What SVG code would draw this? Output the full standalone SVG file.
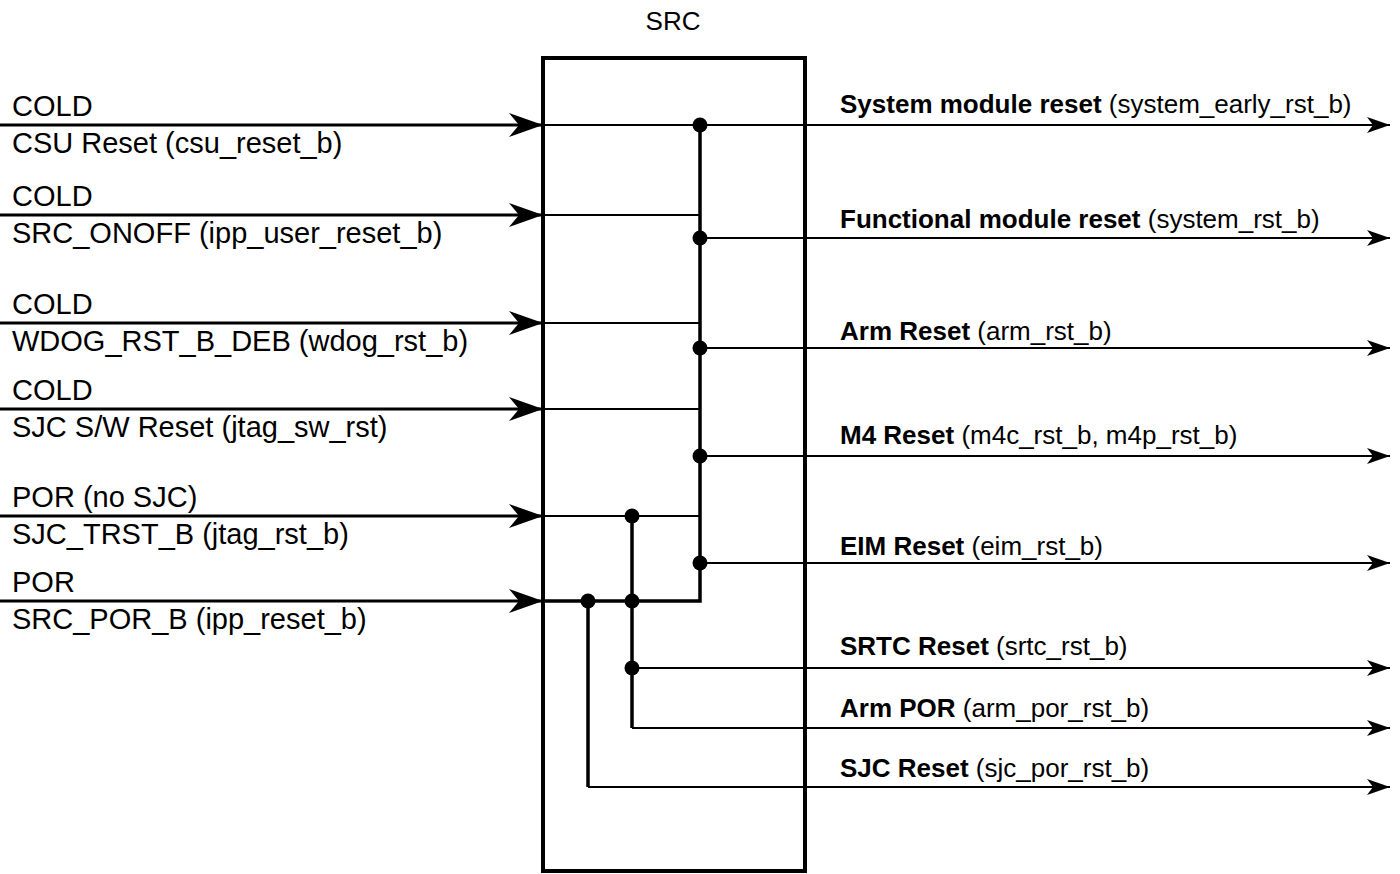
<svg xmlns="http://www.w3.org/2000/svg" width="1400" height="874" viewBox="0 0 1400 874">
<defs>
<marker id="inArrow" markerUnits="userSpaceOnUse" viewBox="0 0 34 24" refX="34" refY="12" markerWidth="34" markerHeight="24" orient="auto"><path d="M0,0 L34,12 L0,24 L10,12 Z" fill="#000"/></marker>
<marker id="outArrow" markerUnits="userSpaceOnUse" viewBox="0 0 23 16" refX="23" refY="8" markerWidth="23" markerHeight="16" orient="auto"><path d="M0,0 L23,8 L0,16 L6,8 Z" fill="#000"/></marker>
<style>
.lt{font-family:"Liberation Sans",Arial,Helvetica,sans-serif;font-size:29px;fill:#000}
.rt{font-family:"Liberation Sans",Arial,Helvetica,sans-serif;font-size:26px;fill:#000}
.b{font-weight:bold}
.in{stroke:#000;stroke-width:3;fill:none;marker-end:url(#inArrow)}
.out{stroke:#000;stroke-width:2;fill:none;marker-end:url(#outArrow)}
.w{stroke:#000;stroke-width:2;fill:none}
.bus{stroke:#000;stroke-width:3.5;fill:none}
.dot{fill:#000}
</style>
</defs>
<rect width="1400" height="874" fill="#fff"/>
<g id="src">
<rect x="543" y="58" width="262" height="813" fill="none" stroke="#000" stroke-width="4"/>
<text class="rt" x="673" y="30" text-anchor="middle" font-size="25">SRC</text>
</g>
<g id="inputs-labels">
<g id="in1"><text class="lt" x="12" y="116">COLD</text><text class="lt" x="12" y="153">CSU Reset (csu_reset_b)</text></g>
<g id="in2"><text class="lt" x="12" y="206">COLD</text><text class="lt" x="12" y="243">SRC_ONOFF (ipp_user_reset_b)</text></g>
<g id="in3"><text class="lt" x="12" y="314">COLD</text><text class="lt" x="12" y="351">WDOG_RST_B_DEB (wdog_rst_b)</text></g>
<g id="in4"><text class="lt" x="12" y="400">COLD</text><text class="lt" x="12" y="437">SJC S/W Reset (jtag_sw_rst)</text></g>
<g id="in5"><text class="lt" x="12" y="507">POR (no SJC)</text><text class="lt" x="12" y="544">SJC_TRST_B (jtag_rst_b)</text></g>
<g id="in6"><text class="lt" x="12" y="592">POR</text><text class="lt" x="12" y="629">SRC_POR_B (ipp_reset_b)</text></g>
</g>
<g id="outputs-labels">
<g id="out1"><text class="rt" x="840" y="113"><tspan class="b">System module reset</tspan> (system_early_rst_b)</text></g>
<g id="out2"><text class="rt" x="840" y="228"><tspan class="b">Functional module reset</tspan> (system_rst_b)</text></g>
<g id="out3"><text class="rt" x="840" y="340"><tspan class="b">Arm Reset</tspan> (arm_rst_b)</text></g>
<g id="out4"><text class="rt" x="840" y="444"><tspan class="b">M4 Reset</tspan> (m4c_rst_b, m4p_rst_b)</text></g>
<g id="out5"><text class="rt" x="840" y="555"><tspan class="b">EIM Reset</tspan> (eim_rst_b)</text></g>
<g id="out6"><text class="rt" x="840" y="655"><tspan class="b">SRTC Reset</tspan> (srtc_rst_b)</text></g>
<g id="out7"><text class="rt" x="840" y="717"><tspan class="b">Arm POR</tspan> (arm_por_rst_b)</text></g>
<g id="out8"><text class="rt" x="840" y="777"><tspan class="b">SJC Reset</tspan> (sjc_por_rst_b)</text></g>
</g>
<g id="connectors">
<line class="in" x1="0" y1="125" x2="543" y2="125"/>
<line class="in" x1="0" y1="215" x2="543" y2="215"/>
<line class="in" x1="0" y1="323" x2="543" y2="323"/>
<line class="in" x1="0" y1="409" x2="543" y2="409"/>
<line class="in" x1="0" y1="516" x2="543" y2="516"/>
<line class="in" x1="0" y1="601" x2="543" y2="601"/>
<line class="w" x1="543" y1="125" x2="700" y2="125"/>
<line class="w" x1="543" y1="215" x2="700" y2="215"/>
<line class="w" x1="543" y1="323" x2="700" y2="323"/>
<line class="w" x1="543" y1="409" x2="700" y2="409"/>
<line class="w" x1="543" y1="516" x2="700" y2="516"/>
<polyline class="bus" points="543,601 700,601 700,125"/>
<line class="bus" x1="632" y1="516" x2="632" y2="728"/>
<line class="bus" x1="588" y1="601" x2="588" y2="787"/>
<line class="out" x1="700" y1="125" x2="1390" y2="125"/>
<line class="out" x1="700" y1="238" x2="1390" y2="238"/>
<line class="out" x1="700" y1="348" x2="1390" y2="348"/>
<line class="out" x1="700" y1="456" x2="1390" y2="456"/>
<line class="out" x1="700" y1="563" x2="1390" y2="563"/>
<line class="out" x1="632" y1="668" x2="1390" y2="668"/>
<line class="out" x1="632" y1="728" x2="1390" y2="728"/>
<line class="out" x1="588" y1="787" x2="1390" y2="787"/>
<circle class="dot" cx="700" cy="125" r="7.5"/>
<circle class="dot" cx="700" cy="238" r="7.5"/>
<circle class="dot" cx="700" cy="348" r="7.5"/>
<circle class="dot" cx="700" cy="456" r="7.5"/>
<circle class="dot" cx="700" cy="563" r="7.5"/>
<circle class="dot" cx="632" cy="516" r="7.5"/>
<circle class="dot" cx="632" cy="601" r="7.5"/>
<circle class="dot" cx="588" cy="601" r="7.5"/>
<circle class="dot" cx="632" cy="668" r="7.5"/>
</g>
</svg>
